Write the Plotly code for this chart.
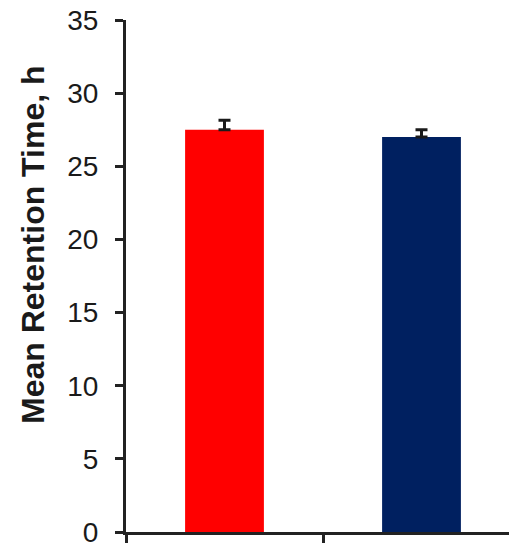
import plotly.graph_objects as go

# Group positions on a numeric axis, with bar heights and upper error values
groups = [0, 1]
mean_retention = [27.5, 27.0]
error_upper = [0.65, 0.5]
bar_colors = ["#FF0000", "#002060"]
y_ticks = [0, 5, 10, 15, 20, 25, 30, 35]
x_ticks = [-0.5, 0.5]

fig = go.Figure()
fig.add_trace(go.Bar(
    x=groups,
    y=mean_retention,
    width=0.40,
    marker=dict(color=bar_colors, line=dict(width=0)),
    error_y=dict(
        type="data",
        symmetric=False,
        array=error_upper,
        arrayminus=[0, 0],
        color="#1a1a1a",
        thickness=3,
        width=6,
    ),
    showlegend=False,
))

axis_color = "#222222"
fig.update_layout(
    width=509,
    height=544,
    margin=dict(l=126, r=0, t=20, b=12),
    paper_bgcolor="white",
    plot_bgcolor="white",
    font=dict(family="Liberation Sans, Arial, sans-serif", color="#1a1a1a"),
    xaxis=dict(
        range=[-0.5, -0.5 + 383 / 197],
        tickvals=x_ticks,
        ticktext=["", ""],
        ticks="outside",
        ticklen=8,
        tickwidth=3,
        tickcolor=axis_color,
        showline=True,
        linecolor=axis_color,
        linewidth=3,
        showgrid=False,
        zeroline=False,
        automargin=False,
    ),
    yaxis=dict(
        range=[0, 35],
        tickvals=y_ticks,
        ticks="outside",
        ticklen=8,
        tickwidth=3,
        tickcolor=axis_color,
        ticklabelstandoff=11,
        ticklabeloverflow="allow",
        tickfont=dict(size=28, color="#1a1a1a"),
        showline=True,
        linecolor=axis_color,
        linewidth=3,
        showgrid=False,
        zeroline=False,
        automargin=False,
    ),
    annotations=[dict(
        text="<b>Mean Retention Time, h</b>",
        textangle=-90,
        xref="paper", yref="paper",
        x=(33 - 126) / 383, y=(532 - 245) / 512,
        xanchor="center", yanchor="middle",
        showarrow=False,
        font=dict(size=32, color="#1a1a1a"),
    )],
)

fig.write_html("out.html")
